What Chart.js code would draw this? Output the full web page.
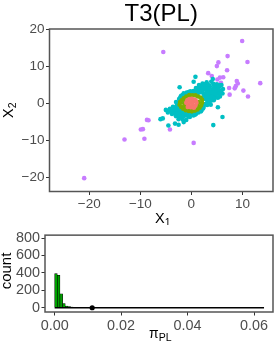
<!DOCTYPE html>
<html>
<head>
<meta charset="utf-8">
<script src="https://cdn.jsdelivr.net/npm/chart.js@4"></script>
<style>
  body { margin: 0; background: #fff; }
  canvas { position: absolute; left: 0; }
</style>
</head>
<body>
<canvas id="scatter" width="277" height="225" style="top:0"></canvas>
<canvas id="hist" width="277" height="121" style="top:225px"></canvas>
<script>
const FONT = '"Liberation Sans", Arial, sans-serif';

// points, [x1, x2]
const redPoints = [[-1,0.2],[-0.8,0.9],[-0.6,-0.4],[-0.4,1.2],[-0.2,0.3],[-0.1,-1],[0.1,1.3],[0.2,-0.3],[0.4,0.6],[0.5,-1.1],[0.7,1],[0.8,-0.5],[1,0.2],[-0.7,-0.9],[0.9,0.7]];
const greenPoints = [[-2.3,-0.3],[-2.2,0.4],[-2,-0.9],[-1.9,0.9],[-1.6,-1.4],[-1.5,1.4],[-1.1,-1.8],[-1,1.9],[-0.5,-2],[-0.4,2.3],[0.1,-2.1],[0.2,2.2],[0.7,-1.9],[0.8,2.2],[1.2,-1.6],[1.3,1.9],[1.6,-1.1],[1.8,1.6],[1.9,-0.5],[2.1,1],[2.1,0.2],[-1.4,0],[1.4,0.4],[-1.2,0.8],[1.2,-0.6],[0,-1.5],[-1.3,-0.8]];
const cyanPoints = [
  [0.8,7.2],[0.45,5.9],[-2.3,4.4],[4.2,6.6],[5.2,-1],[6.1,-3.6],[4.3,-5.8],[-4.5,-5.9],[-3.2,-5.4],[-2.5,-5.7],[-6.05,-4.2],[-5.6,-4],[-1.5,-5],
  [-5,-1.7],[-4.6,-2.4],[-4.2,-1.4],[-3.8,-2.8],[-3.6,-0.9],[-3.3,-2],[-3,0.4],[-3,-3.4],[-2.7,-1.1],[-2.5,-4.2],[-2.4,1.2],[-2.2,-3],[-2,2.1],[-1.9,-2],[-1.7,-4.3],[-1.5,2.8],[-1.2,-3.2],[-1,-4.4],[-0.9,3],[-0.7,-2.7],[-0.3,-3.6],[-0.2,3.3],[0.4,-3.2],[0.4,3.4],[0.9,-2.8],[0.9,4.2],[1.3,3.2],[1.4,-2.4],[1.5,5],[1.9,4.2],[2,-1.7],[2.1,3.1],[2.2,5.4],[2.4,-0.9],[2.6,4.5],[2.7,2.3],[2.8,-0.1],[2.8,1.2],[3,5.7],[3.1,3.6],[3.3,2.5],[3.3,0.5],[3.6,4.7],[3.7,1.4],[3.8,-0.3],[3.9,3.3],[3.9,5.9],[4.2,2.3],[4.4,0.9],[4.5,4.6],[4.7,3.4],[4.9,1.7],[5,5.2],[5.2,2.7],[5.4,4.3],[5.6,1.9],[5.8,3.4],[5.9,5],[6.1,2.7],[6.2,3.9],
  [-3.1,-1],[-2.6,0],[-2.8,-2.4],[-2,0.5],[1.1,2.5],[0,2.9],[-1.6,-2.7],[0,-2.6],[1.7,-1.6],[2.5,1.8],[3,1.4],[3.5,3.4],[4.5,2.9],[2.6,-0.2],
  [-4.4,-1.9],[-3.9,-2],[-3.5,-1.5],[-3.4,-2.6],[-3,-1.6],[-2.6,-3.2],[-2.4,-1.9],[-2.3,-2.5],[-2,-3.6],[-1.9,-1.4],[-1.6,-3.4],[-1.3,-2.3],[-1,-3],[-0.6,-3.4],[-0.9,-2.2],[-0.3,-2.4],[0.3,-2.5],[0.7,-3],[1,-2.4],[-2.5,-0.8],[-2.8,-0.3],[-2.4,0.3],[-2.2,1.6],[-1.7,2.3],[-1.3,2.4],[-0.8,2.6],[-0.5,3.1],[0.5,2.8],[0.8,3.3],[1.3,4.2],[1.6,3],[1.7,3.8],[2.1,4.7],[2.4,3.8],[2.4,2.6],[2.9,3],[2.8,4.2],[2.6,5.2],[3.3,5],[3.4,4.1],[3,1.9],[3.4,1.8],[3.1,0.9],[3.6,2.8],[3.9,2.4],[3.9,0.8],[4,1.8],[4.2,3.9],[4.3,5.3],[4.1,3],[4.5,1.5],[4.8,2.5],[4.9,4],[4.8,5],[5.2,1.6],[5.3,3.4],[5.5,2.7],[5.6,4.9],[5.3,4.8],[3.5,0],[3.1,-0.4],[2.3,-1.3],[1.9,-2.1]
];
const purplePoints = [[9.96,16.85],[-5.5,13.9],[7.1,12.8],[5.3,11.1],[5,10.1],[11,11.2],[7,9],[3.3,8.2],[4,7.4],[6.25,7.1],[5.6,7],[5.1,6.5],[5.8,5.6],[8.9,6.1],[9.1,5.4],[8.7,4.7],[8.5,4.1],[7.4,4.2],[13.5,5.5],[10.2,3.5],[7.5,2.4],[11.1,1.9],[-8.7,-4.4],[-8.4,-4.5],[-9.9,-7],[-9.5,-6.9],[-4.2,-7],[-13.1,-9.7],[-9.2,-9.5],[0.45,-10.6],[-21,-20.1]];
const xTicks = [-20, -10, 0, 10];
const yTicks = [-20, -10, 0, 10, 20];

// histogram bins that hold anything, the rest of the range is flat on zero
const binMids = [0.0004, 0.0012, 0.002, 0.0028, 0.0036, 0.0044, 0.0052, 0.006, 0.0068, 0.0076];
const binCounts = [392, 372, 160, 48, 20, 12, 7, 5, 3, 2];
const histBaseline = [0, 0.063];
const markedPi = 0.0113;
const histXTicks = [0, 0.02, 0.04, 0.06];
const histYTicks = [0, 200, 400, 600, 800];

const toXY = pts => pts.map(p => ({ x: p[0], y: p[1] }));
const dots = (label, pts, color, order) => ({
  label, data: toXY(pts), backgroundColor: color, borderWidth: 0, pointRadius: 2.3, order
});

// panel border, and axis labels with subscripts which the title options can't do
const frame = {
  id: 'frame',
  afterDraw(chart) {
    const a = chart.chartArea, c = chart.ctx;
    c.save();
    c.strokeStyle = '#555555';
    c.lineWidth = 1.5;
    c.strokeRect(a.left, a.top, a.right - a.left, a.bottom - a.top);
    c.restore();
  }
};
const subLabel = (c, x, y, rot, main, sub, size, subSize) => {
  c.save();
  c.translate(x, y);
  c.rotate(rot);
  c.fillStyle = '#000';
  c.textBaseline = 'alphabetic';
  c.font = size + 'px ' + FONT;
  c.fillText(main, 0, 0);
  const w = c.measureText(main).width;
  c.font = subSize + 'px ' + FONT;
  c.fillText(sub, w, 3);
  c.restore();
};

const axis = (min, max, ticks, size, fmt) => ({
  type: 'linear', min, max, offset: false,
  afterBuildTicks: s => { s.ticks = ticks.map(v => ({ value: v })); },
  grid: { drawOnChartArea: false, tickLength: 3.5, color: '#333333', tickWidth: 1, offset: false },
  border: { display: false },
  ticks: {
    color: '#4D4D4D', padding: 1.5, maxRotation: 0, autoSkip: false,
    font: { family: FONT, size },
    callback: fmt
  }
});
const minus = v => String(v).replace('-', '\u2212');

const xA = axis(-27.8, 16, xTicks, 13.5, minus);
xA.afterFit = s => { s.height = 33.5; };
const yA = axis(-23.7, 20.1, yTicks, 13.5, minus);
yA.afterFit = s => { s.width = 49.5; };

new Chart(document.getElementById('scatter'), {
  type: 'scatter',
  data: {
    datasets: [
      dots('core', redPoints, '#F8766D', 1),
      dots('inner', greenPoints, '#7CAE00', 2),
      dots('middle', cyanPoints, '#00BFC4', 3),
      dots('outer', purplePoints, '#C77CFF', 4)
    ]
  },
  options: {
    responsive: false,
    animation: false,
    layout: { padding: { right: 3 } },
    scales: { x: xA, y: yA },
    plugins: {
      legend: { display: false },
      tooltip: { enabled: false },
      title: {
        display: true, text: 'T3(PL)', color: '#000', fullSize: false,
        font: { family: FONT, size: 24, weight: 'normal', lineHeight: 1.2 },
        padding: { top: 0, bottom: 0.2 }
      }
    }
  },
  plugins: [frame, {
    id: 'labels',
    afterDraw(chart) {
      const c = chart.ctx;
      subLabel(c, 155, 223, 0, 'X', '1', 14.5, 10.5);
      subLabel(c, 13, 118, -Math.PI / 2, 'X', '2', 14.5, 10.5);
    }
  }]
});

const hx = axis(-0.0029, 0.0657, histXTicks, 14.4, v => v.toFixed(2));
hx.afterFit = s => { s.height = 34; };
const hy = axis(-49, 834, histYTicks, 14.4, v => String(v));
hy.afterFit = s => { s.width = 45; };

new Chart(document.getElementById('hist'), {
  type: 'bar',
  data: {
    datasets: [
      {
        type: 'scatter', data: [{ x: markedPi, y: 0 }], order: 1,
        backgroundColor: '#000', borderWidth: 0, pointRadius: 2.6
      },
      {
        type: 'line', data: histBaseline.map(x => ({ x, y: 0 })), order: 2,
        borderColor: '#000', borderWidth: 1.5, pointRadius: 0
      },
      {
        data: binMids.map((x, i) => ({ x, y: binCounts[i] })), order: 3,
        backgroundColor: '#00A000', borderColor: '#000', borderWidth: 0.6,
        categoryPercentage: 1, barPercentage: 1
      }
    ]
  },
  options: {
    responsive: false,
    animation: false,
    layout: { padding: { top: 9, right: 4 } },
    scales: { x: hx, y: hy },
    plugins: { legend: { display: false }, tooltip: { enabled: false } }
  },
  plugins: [frame, {
    id: 'labels',
    afterDraw(chart) {
      const c = chart.ctx;
      c.save();
      c.translate(11, 46);
      c.rotate(-Math.PI / 2);
      c.textAlign = 'center';
      c.fillStyle = '#000';
      c.font = '15px ' + FONT;
      c.fillText('count', 0, 0);
      c.restore();
      subLabel(c, 149, 113, 0, '\u03C0', 'PL', 14, 10.5);
    }
  }]
});
</script>
</body>
</html>
